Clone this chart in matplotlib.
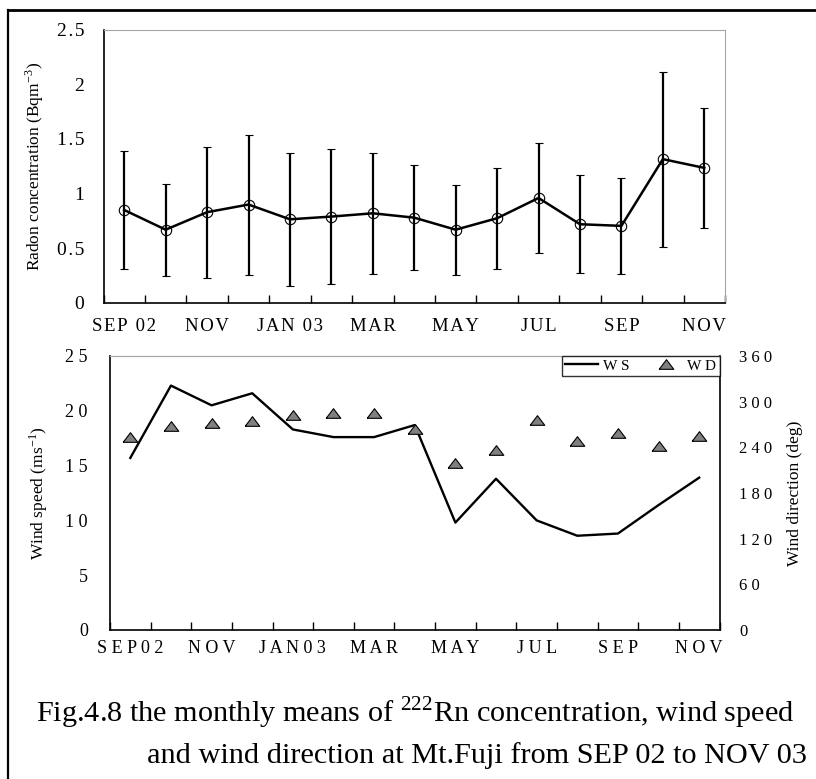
import numpy as np
import matplotlib
matplotlib.use('Agg')
import matplotlib.pyplot as plt
from matplotlib.lines import Line2D
from matplotlib.ticker import FixedLocator, NullFormatter

plt.rcParams['font.family'] = ['Liberation Serif', 'DejaVu Serif']
plt.rcParams['mathtext.fontset'] = 'stix'

# monthly means, SEP 02 .. NOV 03
months = ['SEP 02', 'OCT', 'NOV', 'DEC', 'JAN 03', 'FEB', 'MAR', 'APR',
          'MAY', 'JUN', 'JUL', 'AUG', 'SEP', 'OCT', 'NOV']
rn_mean = [0.85, 0.67, 0.83, 0.90, 0.765, 0.79, 0.82, 0.78,
           0.67, 0.775, 0.96, 0.72, 0.705, 1.315, 1.235]
rn_sd = [0.54, 0.42, 0.60, 0.64, 0.61, 0.62, 0.555, 0.48,
         0.41, 0.46, 0.50, 0.45, 0.44, 0.80, 0.55]
ws = [15.7, 22.3, 20.5, 21.6, 18.3, 17.6, 17.6, 18.7,
      9.8, 13.8, 10.0, 8.6, 8.8, 11.4, 13.9]
wd = [253, 268, 272, 275, 283, 285, 285, 264,
      219, 237, 276, 248, 259, 242, 255]

HS = '\u200a'  # hair space, for a little letter spacing

x = np.arange(len(months))
label_pos = x[::2]
top_labels = [HS.join(m) for m in months[::2]]
bot_labels = [' '.join(m.replace(' ', '')) for m in months[::2]]

fig = plt.figure(figsize=(8.16, 7.79), dpi=100)
W, H = 816.0, 779.0


def frac(l, t, r, b):
    return [l / W, 1 - b / H, (r - l) / W, (b - t) / H]


grey = '#a6a6a6'


def month_axis(ax, labels, pad):
    ax.set_xlim(-0.5, len(months) - 0.5)
    ax.xaxis.set_major_locator(FixedLocator(np.arange(-0.5, len(months), 1.0)))
    ax.xaxis.set_major_formatter(NullFormatter())
    ax.xaxis.set_minor_locator(FixedLocator(label_pos))
    ax.set_xticklabels(labels, minor=True)
    ax.tick_params(axis='x', which='major', direction='in', length=6,
                   width=1, color='black')
    ax.tick_params(axis='x', which='minor', length=0, pad=pad, labelsize=13.5)
    ax.spines['top'].set_color(grey)
    ax.spines['left'].set_linewidth(1.2)
    ax.spines['bottom'].set_linewidth(1.2)


# radon concentration
ax1 = fig.add_axes(frac(103.5, 29.5, 725, 303))
ax1.errorbar(x, rn_mean, yerr=rn_sd, color='black', lw=1.8, ecolor='black',
             elinewidth=1.6, capsize=3, capthick=1.4, marker='o', ms=7.5,
             mfc='none', mec='black', mew=0.8, zorder=3)
ax1.set_ylim(0, 2.5)
ax1.set_yticks([0, 0.5, 1, 1.5, 2, 2.5])
ax1.set_yticklabels([HS.join(s) for s in ['0', '0.5', '1', '1.5', '2', '2.5']])
ax1.tick_params(axis='y', length=0, pad=14, labelsize=14)
ax1.spines['right'].set_color(grey)
month_axis(ax1, top_labels, 11)
ax1.set_ylabel(r'Radon concentration (Bqm$^{\mathregular{-3}}$)', fontsize=12.5)
ax1.yaxis.set_label_coords(-0.092, 0.5)

# wind speed and direction
ax2 = fig.add_axes(frac(110, 356, 719.5, 630))
ln, = ax2.plot(x, ws, color='black', lw=1.7, label='W S')
ax2.set_ylim(0, 25)
ax2.set_yticks(range(0, 26, 5))
ax2.set_yticklabels([' '.join(str(v)) for v in range(0, 26, 5)])
ax2.tick_params(axis='y', length=0, pad=16, labelsize=13)
month_axis(ax2, bot_labels, 7)
ax2.tick_params(axis='x', which='minor', labelsize=13)
ax2.spines['right'].set_visible(False)
ax2.set_ylabel(r'Wind speed (ms$^{\mathregular{-1}}$)', fontsize=12.5)
ax2.yaxis.set_label_coords(-0.098, 0.5)

ax3 = ax2.twinx()
tri = [(-1, -0.66), (1, -0.66), (0, 0.66), (-1, -0.66)]
mk, = ax3.plot(x, wd, ls='none', marker=tri, ms=10.5, mfc='#808080',
               mec='black', mew=0.8, label='W D')
ax3.set_ylim(0, 360)
ax3.set_yticks(range(0, 361, 60))
ax3.set_yticklabels([' '.join(str(v)) for v in range(0, 361, 60)])
ax3.tick_params(axis='y', length=0, pad=14, labelsize=12)
ax3.spines['top'].set_color(grey)
ax3.spines['left'].set_visible(False)
ax3.spines['bottom'].set_visible(False)
ax3.spines['right'].set_linewidth(1.2)
ax3.set_ylabel('Wind direction (deg)', fontsize=12.5)
ax3.yaxis.set_label_coords(1.11, 0.5)

leg = ax3.legend([ln, mk], ['W S', 'W D'], loc='upper right', ncol=2,
                 fontsize=11, frameon=True, fancybox=False, borderaxespad=0,
                 handlelength=2.2, handletextpad=0.3, columnspacing=1.3,
                 borderpad=0.2, markerscale=1.0)
leg.get_frame().set_edgecolor('black')
leg.get_frame().set_linewidth(1.0)

# caption
fig.text(36 / W, 1 - 722 / H,
         r'Fig.4.8 the monthly means of $^{\mathregular{222}}$Rn concentration, wind speed',
         fontsize=21.8, ha='left', va='baseline')
fig.text(147 / W, 1 - 763 / H,
         'and wind direction at Mt.Fuji from SEP 02 to NOV 03',
         fontsize=21.8, ha='left', va='baseline')

# border
fig.add_artist(Line2D([7.5 / W, 7.5 / W], [0, 1 - 9.7 / H],
                      transform=fig.transFigure, color='black', lw=1.6))
fig.add_artist(Line2D([7.5 / W, 1], [1 - 9.7 / H, 1 - 9.7 / H],
                      transform=fig.transFigure, color='black', lw=2.0))

fig.savefig('out.png', dpi=100)
